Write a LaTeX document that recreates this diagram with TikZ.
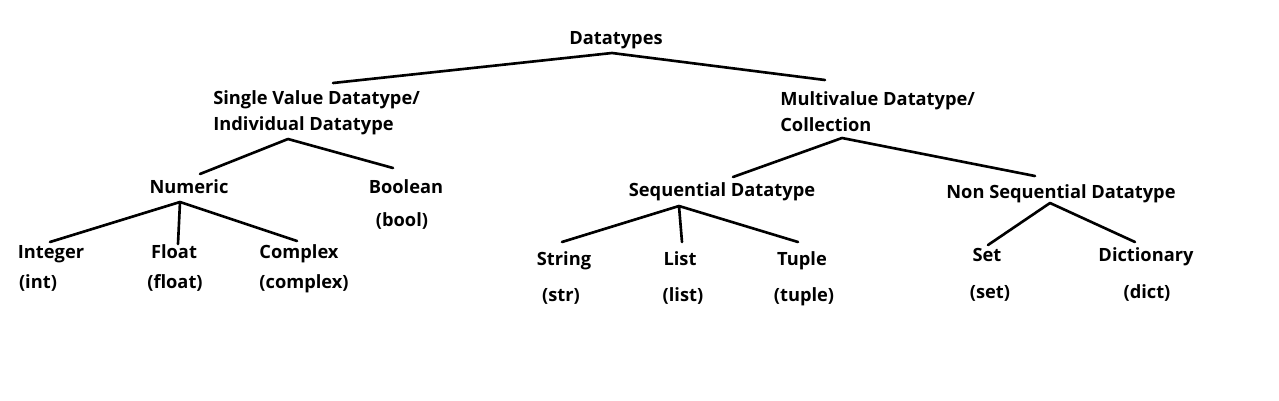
\documentclass[tikz,border=0pt]{standalone}
\usepackage{fontspec}
\setmainfont{Open Sans}

\begin{document}
\begin{tikzpicture}[
    x = 0.02cm, y = -0.02cm,
    baseText/.style = {inner sep = 0pt, font = \bfseries\fontsize{10.4}{14.7}\selectfont},
    typeText/.style = {baseText, text height = 9pt, text depth = 1.6pt},
    groupText/.style = {baseText, align = left, anchor = west},
    branch/.style = {line width = 1.5pt, line cap = round, line join = round},
    ]

    \fill [white] (0,0) rectangle (1279,400);
    \useasboundingbox (0,0) rectangle (1279,400);

    %% Root of the tree
    \node [typeText] (types) at (616,38) {Datatypes};

    %% The two big groups
    \node [groupText] (single) at (213,113) {Single Value Datatype/ \\ Individual Datatype};
    \node [groupText] (multi) at (780,112) {Multivalue Datatype/ \\ Collection};

    \draw [branch]
    ([shift={(120,-30)}]single.west)
    -- ([shift={(-4,15)}]types.center)
    -- ([shift={(45,-32)}]multi.west)
    ;

    %% Single value side
    \node [typeText] (numeric) at (189,187) {Numeric};
    \node [typeText] (boolean) at (406,187) {Boolean};
    \node [typeText] (booleanPy) at (402,220) {(bool)};

    \draw [branch]
    ([shift={(11,-13)}]numeric.center)
    -- ([shift={(75,26)}]single.west)
    -- ([shift={(-13,-19)}]boolean.center)
    ;

    \node [typeText] (integer) at (51,252) {Integer};
    \node [typeText] (integerPy) at (38,282) {(int)};
    \node [typeText] (float) at (174,252) {Float};
    \node [typeText] (floatPy) at (175,282) {(float)};
    \node [typeText] (complex) at (299,252) {Complex};
    \node [typeText] (complexPy) at (304,282) {(complex)};

    \draw [branch]
    ([shift={(-9,15)}]numeric.center) coordinate (numericFoot)
    -- ([shift={(-1,-10)}]integer.center)
    (numericFoot) -- ([shift={(4,-8)}]float.center)
    (numericFoot) -- ([shift={(-2,-11)}]complex.center)
    ;

    %% Multivalue side
    \node [typeText] (sequential) at (722,190) {Sequential Datatype};
    \node [typeText] (nonSequential) at (1061,192) {Non Sequential Datatype};

    \draw [branch]
    ([shift={(11,-13)}]sequential.center)
    -- ([shift={(62,26)}]multi.west)
    -- ([shift={(-26,-16)}]nonSequential.center)
    ;

    \node [typeText] (string) at (564,259) {String};
    \node [typeText] (stringPy) at (561,295) {(str)};
    \node [typeText] (list) at (680,259) {List};
    \node [typeText] (listPy) at (683,295) {(list)};
    \node [typeText] (tuple) at (802,259) {Tuple};
    \node [typeText] (tuplePy) at (804,295) {(tuple)};

    \draw [branch]
    ([shift={(-43,16)}]sequential.center) coordinate (sequentialFoot)
    -- ([shift={(-2,-17)}]string.center)
    (sequentialFoot) -- ([shift={(2,-17)}]list.center)
    (sequentialFoot) -- ([shift={(-4,-17)}]tuple.center)
    ;

    \node [typeText] (set) at (987,255) {Set};
    \node [typeText] (setPy) at (990,292) {(set)};
    \node [typeText] (dictionary) at (1146,255) {Dictionary};
    \node [typeText] (dictionaryPy) at (1147,292) {(dict)};

    \draw [branch]
    ([shift={(1,-10)}]set.center)
    -- ([shift={(-11,11)}]nonSequential.center)
    -- ([shift={(-11,-13)}]dictionary.center)
    ;

\end{tikzpicture}
\end{document}
